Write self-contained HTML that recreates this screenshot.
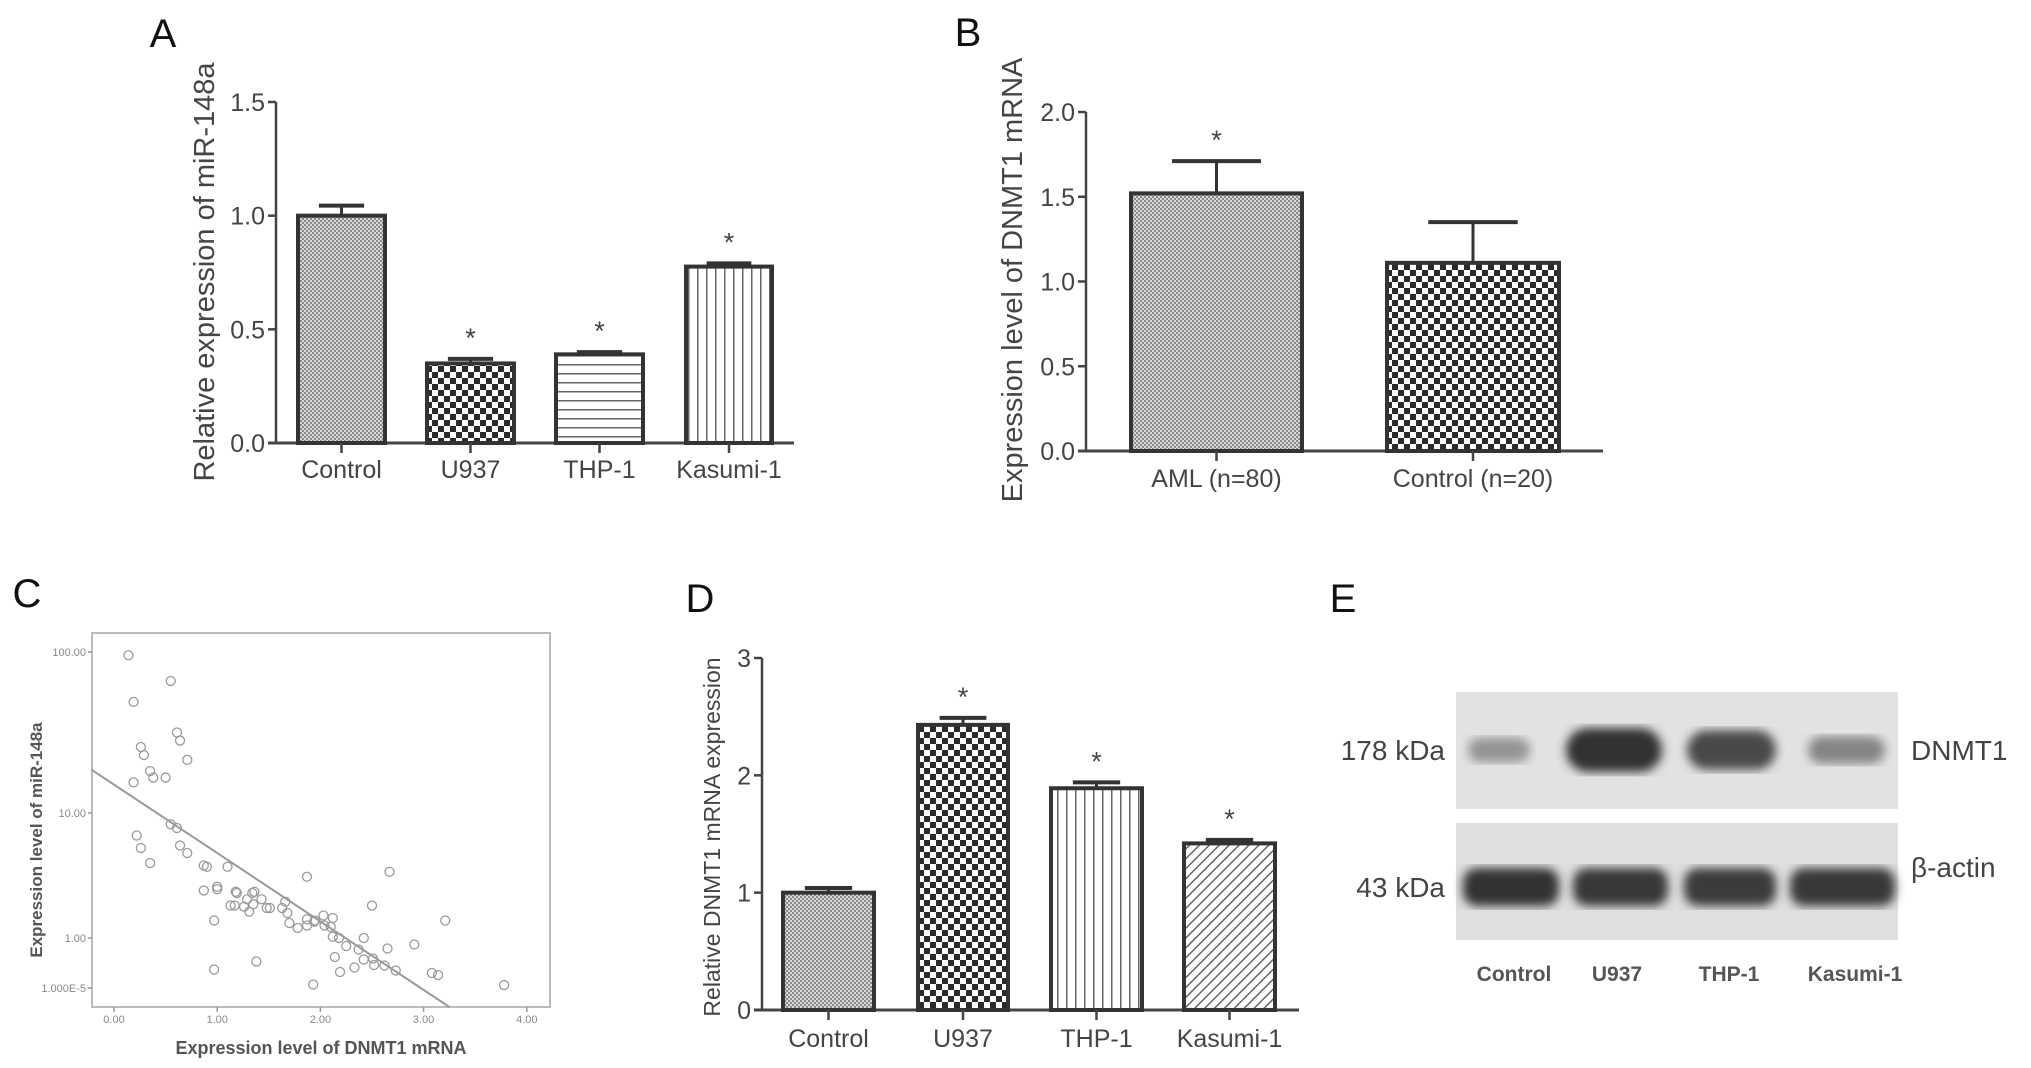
<!DOCTYPE html>
<html><head><meta charset="utf-8"><style>
html,body{margin:0;padding:0;background:#fff;}
svg{display:block;font-family:"Liberation Sans",sans-serif;}
</style></head><body>
<svg id="fig" width="2031" height="1068" viewBox="0 0 2031 1068">
<defs>
<pattern id="pFine" width="4" height="4" patternUnits="userSpaceOnUse"><rect width="4" height="4" fill="#d8d8d8"/><rect width="2" height="2" fill="#8a8a8a"/><rect x="2" y="2" width="2" height="2" fill="#8a8a8a"/></pattern>
<pattern id="pCheck" width="12" height="12" patternUnits="userSpaceOnUse"><rect width="12" height="12" fill="#fff"/><rect width="6" height="6" fill="#2a2a2a"/><rect x="6" y="6" width="6" height="6" fill="#2a2a2a"/></pattern>
<pattern id="pH" width="10" height="9" patternUnits="userSpaceOnUse"><rect width="10" height="9" fill="#fff"/><rect y="4" width="10" height="1.5" fill="#666"/></pattern>
<pattern id="pV" width="9" height="10" patternUnits="userSpaceOnUse"><rect width="9" height="10" fill="#fff"/><rect x="4" width="1.5" height="10" fill="#666"/></pattern>
<pattern id="pD" width="7" height="7" patternUnits="userSpaceOnUse" patternTransform="rotate(45)"><rect width="7" height="7" fill="#fff"/><rect x="3" width="1.5" height="7" fill="#666"/></pattern>
<filter id="blur4"><feGaussianBlur stdDeviation="5"/></filter>
</defs>
<g id="panels"></g>
</svg>
<script>
// Panel A data
const aCats=["Control","U937","THP-1","Kasumi-1"];
const aVals=[1.0,0.35,0.39,0.776];
const aErr=[1.044,0.37,0.40,0.79];
const aStar=[false,true,true,true];
const aTicks=["0.0","0.5","1.0","1.5"];
const aTickVals=[0,0.5,1.0,1.5];
// Panel B data
const bCats=["AML (n=80)","Control (n=20)"];
const bVals=[1.52,1.11];
const bErr=[1.71,1.35];
const bStar=[true,false];
const bTicks=["0.0","0.5","1.0","1.5","2.0"];
const bTickVals=[0,0.5,1.0,1.5,2.0];
// Panel D data
const dCats=["Control","U937","THP-1","Kasumi-1"];
const dVals=[1.0,2.43,1.89,1.42];
const dErr=[1.04,2.49,1.94,1.45];
const dStar=[false,true,true,true];
const dTicks=["0","1","2","3"];
const dTickVals=[0,1,2,3];
// Panel C data (x = DNMT1 mRNA, y = log10 miR-148a)
const cX=[0.14,0.55,0.19,0.61,0.64,0.26,0.29,0.71,0.35,0.38,0.50,0.19,0.55,0.61,0.22,0.26,0.64,0.71,0.35,0.87,0.90,1.10,1.87,2.67,0.87,1.00,1.00,1.18,1.19,1.36,1.34,1.43,1.29,1.13,1.17,1.26,1.35,1.31,1.48,1.51,1.63,1.66,1.68,1.70,1.78,1.87,1.87,1.94,1.95,2.03,2.04,2.10,2.12,2.50,3.21,0.97,2.12,2.18,2.42,2.25,2.37,2.65,2.91,2.14,1.38,2.42,2.51,2.52,2.62,2.73,2.33,2.19,0.97,3.08,3.14,1.93,3.78];
const cY=[1.98,1.82,1.69,1.50,1.45,1.41,1.36,1.33,1.26,1.22,1.22,1.19,0.91,0.88,0.82,0.72,0.74,0.68,0.60,0.58,0.57,0.57,0.49,0.53,0.38,0.41,0.39,0.37,0.36,0.37,0.36,0.31,0.31,0.26,0.26,0.25,0.27,0.21,0.24,0.24,0.24,0.29,0.20,0.12,0.08,0.10,0.15,0.13,0.14,0.18,0.10,0.09,0.16,0.26,0.14,0.14,0.01,0.00,0.00,-0.16,-0.23,-0.21,-0.13,-0.38,-0.47,-0.43,-0.41,-0.54,-0.55,-0.65,-0.59,-0.68,-0.63,-0.70,-0.74,-0.93,-0.94];
const cLineX=[-0.22,3.25];
const cLineY=[1.27,-1.38];
const cXTicks=["0.00","1.00","2.00","3.00","4.00"];
const cXTickVals=[0,1,2,3,4];
const cYTicks=["100.00","10.00","1.00","1.000E-5"];
const cYTickVals=[2,1,0,-1];
// Panel E data (band intensity, 0-1)
const eLanes=["Control","U937","THP-1","Kasumi-1"];
const eDnmt1=[0.35,1.0,0.85,0.45];
const eActin=[1.0,0.97,0.95,0.97];

const NS="http://www.w3.org/2000/svg";
const root=document.getElementById('panels');
function mk(tag,attrs,parent){const e=document.createElementNS(NS,tag);for(const k in attrs)e.setAttribute(k,attrs[k]);(parent||root).appendChild(e);return e;}
function txt(s,attrs,parent){const e=mk('text',attrs,parent);e.textContent=s;return e;}

function panelLetter(ch,x,y){
  const t=txt(ch,{x:x,y:y,'font-size':40,fill:'#111','text-anchor':'middle'});
  
  
}

function barChart(id,g0,cats,vals,errs,stars,ticks,tickVals,fills,title,titleX,fs){
  const g=mk('g',{});
  
  
  const sy=v=>g0.y0-(v-tickVals[0])/(tickVals[tickVals.length-1]-tickVals[0])*(g0.y0-g0.yTop);
  const ax=mk('line',{x1:g0.ax,y1:g0.yTop,x2:g0.ax,y2:g0.y0,stroke:'#444','stroke-width':2.5},g);
  
  
  const xa=mk('line',{x1:g0.ax-8,y1:g0.y0,x2:g0.xEnd,y2:g0.y0,stroke:'#444','stroke-width':3},g);
  
  
  tickVals.forEach((v,i)=>{
    mk('line',{x1:g0.ax-8,y1:sy(v),x2:g0.ax,y2:sy(v),stroke:'#444','stroke-width':2.5},g);
    const t=txt(ticks[i],{x:g0.ax-11,y:sy(v)+fs*0.36,'font-size':fs,fill:'#444','text-anchor':'end'},g);
    
    
  });
  cats.forEach((c,i)=>{
    const x1=g0.bars[i][0],x2=g0.bars[i][1],cx=(x1+x2)/2;
    const top=sy(vals[i]);
    const b=mk('rect',{x:x1,y:top,width:x2-x1,height:g0.y0-top,fill:fills[i],stroke:'#333','stroke-width':4},g);
    
    
    const ey=sy(errs[i]);
    const hw=(x2-x1)*0.26;
    mk('line',{x1:cx,y1:top,x2:cx,y2:ey,stroke:'#333','stroke-width':3},g);
    const eb=mk('line',{x1:cx-hw,y1:ey,x2:cx+hw,y2:ey,stroke:'#333','stroke-width':4},g);
    
    
    mk('line',{x1:cx,y1:g0.y0,x2:cx,y2:g0.y0+10,stroke:'#444','stroke-width':2.5},g);
    const l=txt(c,{x:cx,y:g0.labelY,'font-size':fs,fill:'#444','text-anchor':'middle'},g);
    
    
    if(stars[i]){
      const s=txt('*',{x:cx,y:ey-12,'font-size':fs+2,fill:'#444','text-anchor':'middle'},g);
      
      
    }
  });
  const t=txt(title,{x:0,y:0,'font-size':g0.titleFs,fill:'#444','text-anchor':'middle',transform:'translate('+titleX+','+g0.titleY+') rotate(-90)'},g);
  
  
}

// Panel A
panelLetter('A',163,47);
barChart('a',{ax:276,y0:443,yTop:102,xEnd:794,labelY:478,bars:[[298,385],[427,514],[556,643],[686,772]],titleY:272,titleFs:29},
  aCats,aVals,aErr,aStar,aTicks,aTickVals,['url(#pFine)','url(#pCheck)','url(#pH)','url(#pV)'],
  'Relative expression of miR-148a',214,25);
// Panel B
panelLetter('B',968,46);
barChart('b',{ax:1086,y0:451,yTop:112,xEnd:1603,labelY:487,bars:[[1131,1302],[1387,1559]],titleY:280,titleFs:29},
  bCats,bVals,bErr,bStar,bTicks,bTickVals,['url(#pFine)','url(#pCheck)'],
  'Expression level of DNMT1 mRNA',1022,25);
// Panel D
panelLetter('D',700,612);
barChart('d',{ax:762,y0:1010,yTop:658,xEnd:1299,labelY:1047,bars:[[783,874],[918,1008],[1051,1142],[1184,1275]],titleY:837,titleFs:23},
  dCats,dVals,dErr,dStar,dTicks,dTickVals,['url(#pFine)','url(#pCheck)','url(#pV)','url(#pD)'],
  'Relative DNMT1 mRNA expression',720,25);

// Panel C scatter
panelLetter('C',27,607);
(function(){
  const g=mk('g',{});
  
  
  const box={l:92,r:550,t:633,b:1007};
  const tickPix=[652,813,938,988];
  const sx=v=>114+v*103.2;
  const sy=v=>{
    const tv=cYTickVals;
    for(let i=0;i<tv.length-1;i++){
      if(v<=tv[i]&&v>=tv[i+1]) return tickPix[i]+(tv[i]-v)/(tv[i]-tv[i+1])*(tickPix[i+1]-tickPix[i]);
    }
    if(v>tv[0]) return tickPix[0]-(v-tv[0])*(tickPix[1]-tickPix[0]);
    return tickPix[3]+(tv[3]-v)*(tickPix[3]-tickPix[2]);
  };
  const fr=mk('rect',{x:box.l,y:box.t,width:box.r-box.l,height:box.b-box.t,fill:'none',stroke:'#bbb','stroke-width':2},g);
  
  
  cYTickVals.forEach((v,i)=>{
    mk('line',{x1:box.l-4,y1:sy(v),x2:box.l,y2:sy(v),stroke:'#999','stroke-width':1.5},g);
    const t=txt(cYTicks[i],{x:box.l-6,y:sy(v)+4,'font-size':11,fill:'#888','text-anchor':'end'},g);
    
    
  });
  cXTickVals.forEach((v,i)=>{
    mk('line',{x1:sx(v),y1:box.b,x2:sx(v),y2:box.b+5,stroke:'#999','stroke-width':1.5},g);
    const t=txt(cXTicks[i],{x:sx(v),y:1023,'font-size':11,fill:'#888','text-anchor':'middle'},g);
    
    
  });
  const ln=mk('line',{x1:sx(cLineX[0]),y1:sy(cLineY[0]),x2:sx(cLineX[1]),y2:sy(cLineY[1]),stroke:'#999','stroke-width':2},g);
  
  
  cX.forEach((x,i)=>{
    const c=mk('circle',{cx:sx(x),cy:sy(cY[i]),r:4.5,fill:'none',stroke:'#999','stroke-width':1.3},g);
    
    
  });
  const xt=txt('Expression level of DNMT1 mRNA',{x:321,y:1054,'font-size':18,'font-weight':'bold',fill:'#555','text-anchor':'middle'},g);
  
  
  const yt=txt('Expression level of miR-148a',{x:0,y:0,'font-size':17,'font-weight':'bold',fill:'#555','text-anchor':'middle',transform:'translate(42,840) rotate(-90)'},g);
  
  
})();

// Panel E western blot
panelLetter('E',1343,612);
(function(){
  const g=mk('g',{});
  
  
  const m1=mk('rect',{x:1456,y:692,width:442,height:117,fill:'#e2e2e2'},g);
  
  
  const m2=mk('rect',{x:1456,y:823,width:442,height:117,fill:'#dfdfdf'},g);
  
  
  const lanes=[[1468,1530],[1566,1662],[1687,1776],[1808,1885]];
  const actinLanes=[[1463,1559],[1573,1668],[1684,1776],[1790,1895]];
  eLanes.forEach((ln,i)=>{
    const w=lanes[i][1]-lanes[i][0];
    const h=14+eDnmt1[i]*30;
    const sh=Math.round(200-eDnmt1[i]*150);
    const b=mk('rect',{x:lanes[i][0],y:750-h/2,width:w,height:h,rx:h/2,fill:'rgb('+sh+','+sh+','+sh+')',filter:'url(#blur4)'},g);
    
    
    const aw=actinLanes[i][1]-actinLanes[i][0];
    const ah=38;
    const as=Math.round(200-eActin[i]*150);
    const a=mk('rect',{x:actinLanes[i][0],y:887-ah/2,width:aw,height:ah,rx:14,fill:'rgb('+as+','+as+','+as+')',filter:'url(#blur4)'},g);
    
    
    const cx=[1514,1617,1729,1855][i];
    const t=txt(ln,{x:cx,y:981,'font-size':21,'font-weight':'bold',fill:'#555','text-anchor':'middle'},g);
    
    
  });
  const l1=txt('178 kDa',{x:1445,y:760,'font-size':28,fill:'#444','text-anchor':'end'},g);
  
  
  const l2=txt('43 kDa',{x:1445,y:897,'font-size':28,fill:'#444','text-anchor':'end'},g);
  
  
  const l3=txt('DNMT1',{x:1911,y:760,'font-size':28,fill:'#444'},g);
  
  
  const l4=txt('β-actin',{x:1911,y:877,'font-size':28,fill:'#444'},g);
  
  
})();
</script>
</body></html>
